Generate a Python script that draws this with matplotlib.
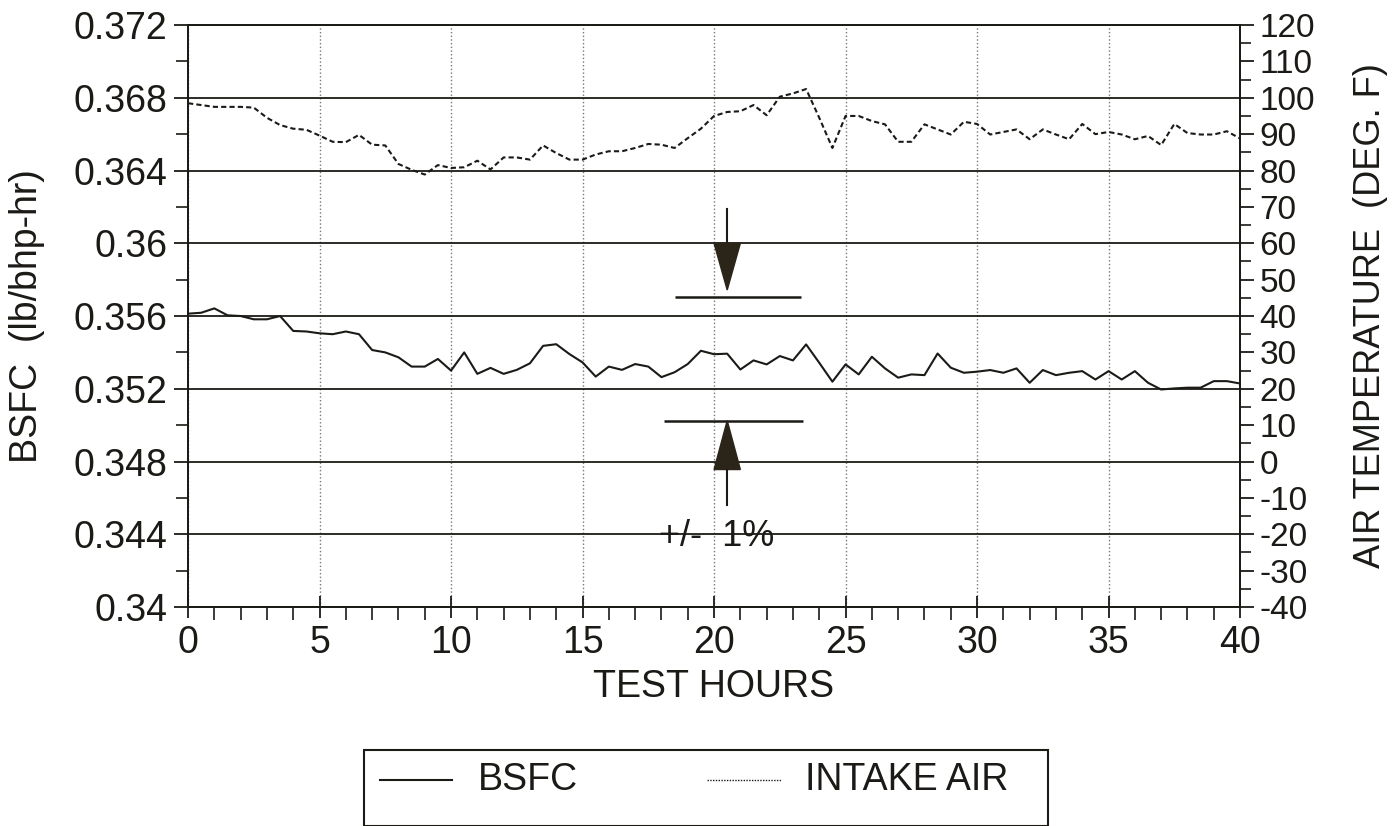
import matplotlib
matplotlib.use("Agg")
import matplotlib.pyplot as plt
from matplotlib.ticker import MultipleLocator, FuncFormatter
from matplotlib.lines import Line2D
from matplotlib.patches import Rectangle

plt.rcParams['font.family'] = ['Liberation Sans', 'DejaVu Sans']
plt.rcParams['axes.unicode_minus'] = False

# test hours, sampled every half hour
hours = [i * 0.5 for i in range(81)]

bsfc = [0.35613, 0.35618, 0.35642, 0.35604, 0.35600, 0.35582, 0.35582, 0.35600,
        0.35518, 0.35515, 0.35505, 0.35500, 0.35515, 0.35500, 0.35413, 0.35400,
        0.35373, 0.35322, 0.35322, 0.35364, 0.35300, 0.35400, 0.35282, 0.35315,
        0.35282, 0.35304, 0.35340, 0.35436, 0.35445, 0.35391, 0.35345, 0.35267,
        0.35322, 0.35304, 0.35336, 0.35322, 0.35264, 0.35291, 0.35336, 0.35409,
        0.35390, 0.35393, 0.35306, 0.35356, 0.35334, 0.35380, 0.35356, 0.35444,
        0.35343, 0.35239, 0.35334, 0.35279, 0.35376, 0.35312, 0.35261, 0.35279,
        0.35275, 0.35394, 0.35316, 0.35288, 0.35294, 0.35303, 0.35288, 0.35312,
        0.35233, 0.35303, 0.35275, 0.35288, 0.35297, 0.35251, 0.35297, 0.35251,
        0.35297, 0.35233, 0.35196, 0.35202, 0.35206, 0.35206, 0.35242, 0.35242,
        0.35229]

intake_air = [98.5, 98.0, 97.5, 97.5, 97.5, 97.3, 94.5, 92.5, 91.5, 91.2,
              89.6, 87.9, 87.8, 89.8, 87.1, 86.9, 81.8, 80.2, 78.9, 81.5,
              80.7, 80.9, 82.7, 80.3, 83.6, 83.6, 83.0, 86.9, 84.8, 83.0,
              83.0, 84.4, 85.3, 85.3, 86.2, 87.3, 87.1, 86.2, 88.9, 91.5,
              95.0, 96.1, 96.3, 98.0, 95.2, 100.3, 101.2, 102.4, 94.5, 86.2,
              95.0, 95.0, 93.6, 92.7, 87.9, 87.9, 92.7, 91.3, 89.9, 93.4,
              92.8, 89.9, 90.6, 91.3, 88.6, 91.3, 89.9, 88.6, 92.8, 90.0,
              90.6, 89.9, 88.6, 89.5, 87.0, 92.8, 90.3, 89.9, 89.9, 90.8,
              88.8]

series_names = ["BSFC", "INTAKE AIR"]

# +/- 1% band annotation
band_hour = 20.5
band_upper = 0.35703
band_lower = 0.35025
band_upper_x = (18.5, 23.3)
band_lower_x = (18.1, 23.4)
arrow_half_width = 0.5
down_stem_top = 0.3619
down_base = 0.360
down_tip = 0.35743
up_base = 0.34756
up_stem_bottom = 0.34561
band_label = "+/-  1%"

ink = '#1c1a16'

fig = plt.figure(figsize=(13.96, 8.26), dpi=100)
ax = fig.add_axes([0.1347, 0.2651, 0.7536, 0.7046])
ax2 = ax.twinx()

ax.plot(hours, bsfc, color=ink, lw=1.5, zorder=3)
ax2.plot(hours, intake_air, color=ink, lw=1.5, linestyle=(0, (2.5, 1.5)), zorder=3)

ax.set_xlim(0, 40)
ax.set_ylim(0.34, 0.372)
ax2.set_ylim(-40, 120)

ax.xaxis.set_major_locator(MultipleLocator(5))
ax.xaxis.set_minor_locator(MultipleLocator(1))
ax.yaxis.set_major_locator(MultipleLocator(0.004))
ax.yaxis.set_minor_locator(MultipleLocator(0.002))
ax.yaxis.set_major_formatter(FuncFormatter(lambda v, p: f"{v:.3f}".rstrip('0')))
ax2.yaxis.set_major_locator(MultipleLocator(10))
ax2.yaxis.set_minor_locator(MultipleLocator(5))

ax.tick_params(axis='both', which='major', direction='out', length=10, width=1.3,
               labelsize=27, colors=ink, pad=5)
ax.tick_params(axis='both', which='minor', direction='out', length=9, width=1.2, colors=ink)
ax.tick_params(axis='x', which='major', direction='inout', length=16)
ax2.tick_params(axis='y', which='major', direction='out', length=10, width=1.3,
                labelsize=24, colors=ink, pad=4)
ax2.tick_params(axis='y', which='minor', direction='out', length=8, width=1.2, colors=ink)

# grid: solid horizontal, dotted vertical
ax.grid(axis='y', which='major', color=ink, lw=1.3, linestyle='-')
ax.grid(axis='x', which='major', color='#777777', lw=1.0, linestyle=':')
ax.set_axisbelow(True)

for a in (ax, ax2):
    for s in a.spines.values():
        s.set_color(ink)
        s.set_linewidth(1.3)

ax.set_xlabel("TEST HOURS", fontsize=27, color=ink, labelpad=6)
ax.set_ylabel("BSFC  (lb/bhp-hr)", fontsize=27, color=ink)
ax.yaxis.set_label_coords(-0.136, 0.5)
ax2.set_ylabel("AIR TEMPERATURE  (DEG. F)", fontsize=26, color=ink)
ax2.yaxis.set_label_coords(1.107, 0.5)

# +/- 1% annotation
ax.plot([band_hour, band_hour], [down_stem_top, down_base], color=ink, lw=1.5, zorder=4)
ax.fill([band_hour - arrow_half_width, band_hour + arrow_half_width, band_hour],
        [down_base, down_base, down_tip], color='#2b2519', zorder=4)
ax.hlines(band_upper, *band_upper_x, color=ink, lw=1.8, zorder=4)
ax.hlines(band_lower, *band_lower_x, color=ink, lw=1.8, zorder=4)
ax.fill([band_hour - arrow_half_width, band_hour + arrow_half_width, band_hour],
        [up_base, up_base, band_lower], color='#2b2519', zorder=4)
ax.plot([band_hour, band_hour], [up_base, up_stem_bottom], color=ink, lw=1.5, zorder=4)
ax.text(20.1, 0.3439, band_label, fontsize=26, color=ink, ha='center', va='center', zorder=5)

# legend box below the chart, laid out by hand (figure fraction)
W, H = 1396.0, 826.0
fig.add_artist(Rectangle((364 / W, 0), 684 / W, 1 - 750 / H, transform=fig.transFigure,
                         fill=False, edgecolor=ink, lw=1.5))
ly = 1 - 780 / H
fig.add_artist(Line2D([380 / W, 452 / W], [ly, ly], transform=fig.transFigure,
                      color=ink, lw=1.5))
fig.text(478 / W, ly, series_names[0], fontsize=27, color=ink, va='center', ha='left')
fig.add_artist(Line2D([707 / W, 782 / W], [ly, ly], transform=fig.transFigure,
                      color=ink, lw=1.0, linestyle=(0, (1, 1))))
fig.text(805 / W, ly, series_names[1], fontsize=27, color=ink, va='center', ha='left')

fig.savefig("out.png", dpi=100)
